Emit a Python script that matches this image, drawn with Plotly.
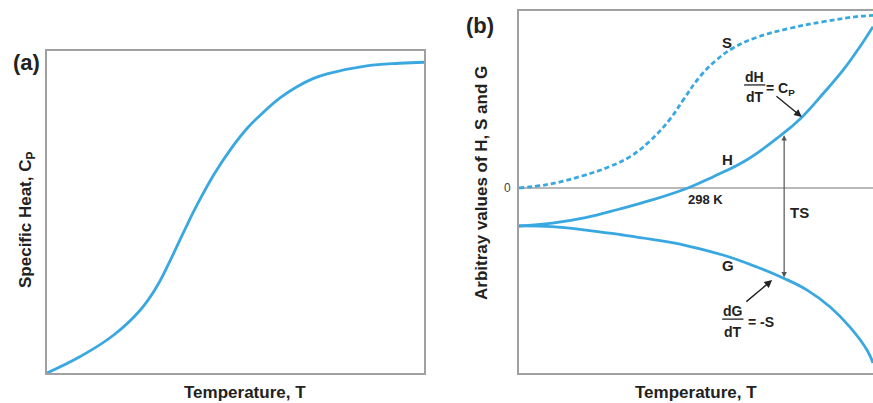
import plotly.graph_objects as go

# ---------------- data ----------------
# Panel (a): specific heat vs temperature (arbitrary units)
a_T = [0, 8.8, 17.7, 24.7, 29.2, 32.7, 36.3, 39.8, 44.2, 48.6, 53.1, 57.5, 61.9, 66.3, 70.7, 74.3, 84.8, 93.6, 100]
a_Cp = [0, 5.1, 11.8, 19.5, 27.0, 35.0, 43.9, 52.2, 61.5, 69.3, 76.0, 81.1, 85.5, 88.9, 91.5, 92.9, 95.4, 96.2, 96.5]

# Panel (b): S, H, G vs temperature (arbitrary units)
S_T = [0, 8.2, 17.8, 25.7, 31.4, 37.0, 42.7, 46.4, 51.1, 55.8, 60.5, 67.1, 76.6, 86.0, 95.4, 100]
S_v = [0, 2.0, 6.8, 12.2, 17.8, 26.7, 39.2, 50.0, 63.2, 72.7, 79.5, 85.5, 90.7, 94.4, 97.3, 98.0]

H_T = [0, 9.4, 18.8, 28.2, 37.6, 47.7, 54.9, 64.3, 73.7, 79.4, 86.0, 91.6, 96.3, 100]
H_v = [-21.6, -20.0, -16.9, -12.1, -6.8, 0.0, 6.4, 15.9, 29.5, 39.2, 53.8, 67.0, 80.2, 91.6]

G_T = [0, 9.3, 18.9, 28.2, 37.6, 47.2, 57.6, 67.2, 74.6, 81.4, 87.9, 93.5, 98.3, 100]
G_v = [-21.6, -22.0, -23.9, -26.4, -29.2, -32.7, -38.1, -44.9, -51.1, -58.0, -67.6, -79.0, -92.0, -99.4]

TS_T = 74.9          # temperature where TS is marked
TS_top = 30.0        # H value at that temperature
TS_bottom = -51.7    # G value at that temperature

# ---------------- style ----------------
BLUE = "#3aa8e0"
GREY = "#a0a0a0"
TXT = "#222222"
FONT = "Liberation Sans, Arial, sans-serif"
W, Hh = 873, 403

def px(x):
    return x / W

def py(y):
    return 1 - y / Hh

fig = go.Figure()

line_kw = dict(color=BLUE, width=2.8, shape="spline", smoothing=1.2)

fig.add_trace(go.Scatter(x=a_T, y=a_Cp, mode="lines", xaxis="x", yaxis="y",
                         line=line_kw, hoverinfo="skip", showlegend=False))
fig.add_trace(go.Scatter(x=S_T, y=S_v, mode="lines", xaxis="x2", yaxis="y2",
                         line=dict(line_kw, dash="5px,3px"), hoverinfo="skip", showlegend=False))
fig.add_trace(go.Scatter(x=H_T, y=H_v, mode="lines", xaxis="x2", yaxis="y2",
                         line=line_kw, hoverinfo="skip", showlegend=False))
fig.add_trace(go.Scatter(x=G_T, y=G_v, mode="lines", xaxis="x2", yaxis="y2",
                         line=line_kw, hoverinfo="skip", showlegend=False))

ax_common = dict(showgrid=False, zeroline=False, showticklabels=False, ticks="",
                 showline=True, linecolor=GREY, linewidth=2, fixedrange=True)

fig.update_layout(
    width=W, height=Hh,
    margin=dict(l=0, r=0, t=0, b=0),
    paper_bgcolor="white", plot_bgcolor="white",
    font=dict(family=FONT, color=TXT),
    xaxis=dict(domain=[47 / W, 424 / W], range=[0, 100], mirror=True, anchor="y", **ax_common),
    yaxis=dict(domain=[py(373), py(51)], range=[0, 100], mirror=True, anchor="x", **ax_common),
    xaxis2=dict(domain=[519 / W, 1.0], range=[0, 100], mirror=True, anchor="y2", **ax_common),
    yaxis2=dict(domain=[py(373), py(11)], range=[-105.1, 100.5], mirror=False, anchor="x2", **ax_common),
)

# zero line in panel (b)
fig.add_shape(type="line", xref="x2 domain", yref="y2", x0=0, x1=1, y0=0, y1=0,
              line=dict(color=GREY, width=1.6), layer="below")

# fraction bars
fig.add_shape(type="line", xref="x2", yref="y2", x0=63.6, x1=69.6, y0=58.5, y1=58.5,
              line=dict(color=TXT, width=1.3))
fig.add_shape(type="line", xref="x2", yref="y2", x0=57.4, x1=63.4, y0=-74.5, y1=-74.5,
              line=dict(color=TXT, width=1.3))

ann = []
def txt(text, x, y, size, xref="paper", yref="paper", bold=True, angle=0, color=TXT):
    ann.append(dict(text=f"<b>{text}</b>" if bold else text, x=x, y=y, xref=xref, yref=yref,
                    showarrow=False, xanchor="center", yanchor="middle", textangle=angle,
                    font=dict(size=size, color=color, family=FONT)))

# panel labels and axis titles
txt("(a)", px(26), py(62), 22)
txt("(b)", px(480), py(25), 22)
txt("Temperature, T", px(245), py(392), 17)
txt("Temperature, T", px(696), py(392), 17)
txt("Specific Heat, C<sub>P</sub>", px(27), py(220), 17, angle=-90)
txt("Arbitray values of H, S and G", px(482), py(183), 17, angle=-90)
txt("0", px(507), 0, 12, yref="y2", bold=False, color="#444444")

# curve labels
txt("S", 58.8, 82.4, 15, "x2", "y2")
txt("H", 58.8, 15.9, 15, "x2", "y2")
txt("G", 59.0, -44.3, 15, "x2", "y2")
txt("298 K", 52.8, -6.8, 13, "x2", "y2")
txt("TS", 79.3, -14.2, 15, "x2", "y2")
txt("dH", 66.6, 62.8, 14, "x2", "y2")
txt("dT", 66.6, 51.5, 14, "x2", "y2")
txt("= C<sub>P</sub>", 74.0, 56.4, 14, "x2", "y2")
txt("dG", 60.4, -70.0, 14, "x2", "y2")
txt("dT", 60.4, -82.0, 14, "x2", "y2")
txt("= -S", 68.4, -76.3, 14, "x2", "y2")

# arrows
ann.append(dict(x=79.9, y=40.3, ax=72.3, ay=52.8, xref="x2", yref="y2", axref="x2", ayref="y2",
                text="", showarrow=True, arrowhead=2, arrowsize=1.1, arrowwidth=1.4, arrowcolor="#222222"))
ann.append(dict(x=71.5, y=-52.3, ax=63.8, ay=-65.3, xref="x2", yref="y2", axref="x2", ayref="y2",
                text="", showarrow=True, arrowhead=2, arrowsize=1.1, arrowwidth=1.4, arrowcolor="#222222"))
ann.append(dict(x=TS_T, y=TS_top, ax=TS_T, ay=TS_bottom, xref="x2", yref="y2", axref="x2", ayref="y2",
                text="", showarrow=True, arrowhead=2, startarrowhead=2, arrowside="end+start",
                arrowsize=0.9, startarrowsize=0.9, arrowwidth=1.2, arrowcolor="#555555"))

fig.update_layout(annotations=ann)

fig.write_html("out.html")
